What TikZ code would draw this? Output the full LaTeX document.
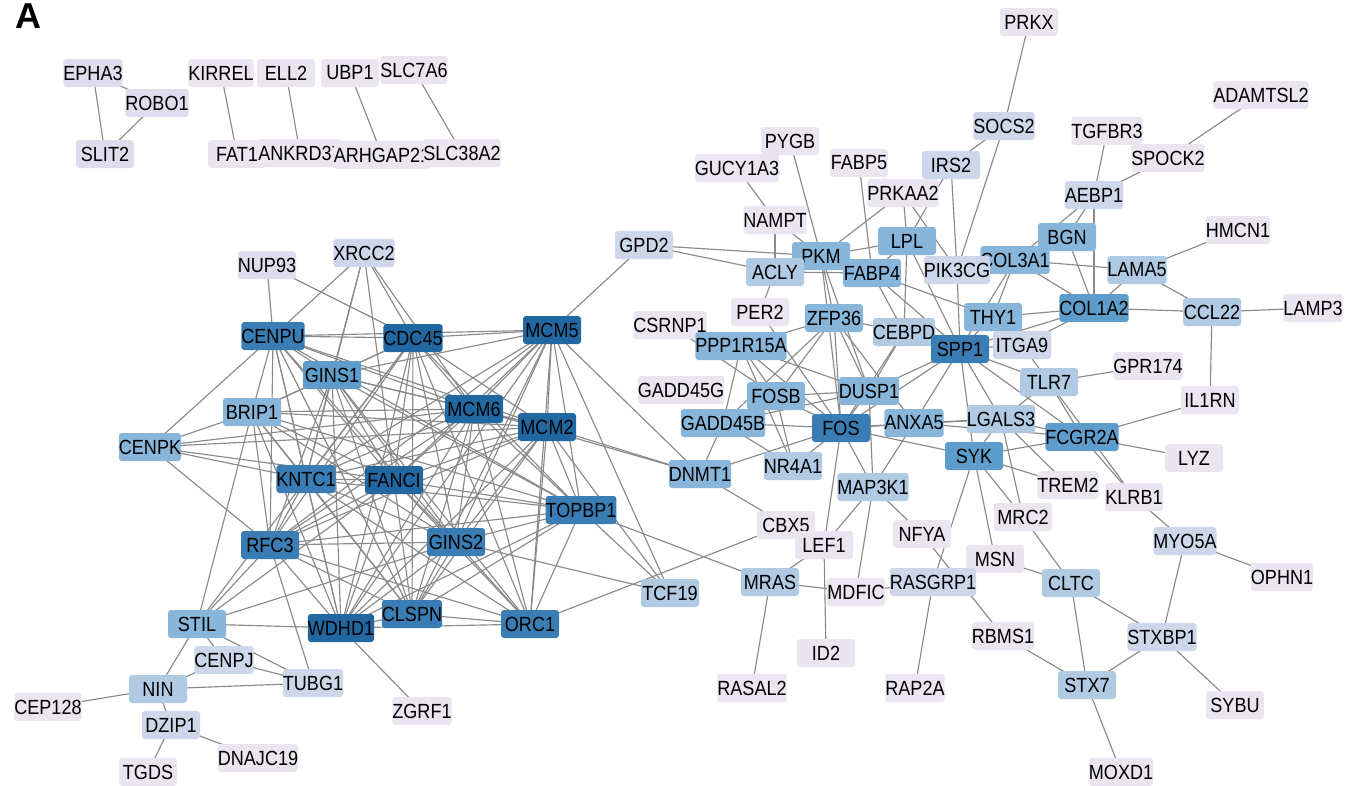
\documentclass[tikz,border=0pt]{standalone}
\usepackage{fontspec}
\newfontfamily\genefont{Liberation Sans}[FakeStretch=0.88]
\newfontfamily\titlefont{Liberation Sans}
\usetikzlibrary{backgrounds}
\definecolor{colA}{HTML}{EAE5F1}
\definecolor{colB}{HTML}{DEDDEE}
\definecolor{colC}{HTML}{CCD7EA}
\definecolor{colD}{HTML}{B0CAE3}
\definecolor{colE}{HTML}{88B6DA}
\definecolor{colF}{HTML}{5E9CCB}
\definecolor{colG}{HTML}{3A7DB4}
\definecolor{colH}{HTML}{2168A3}
\definecolor{edgecol}{HTML}{8A8A8A}
\tikzset{
  gn/.style={rounded corners=3pt, minimum width=58pt, minimum height=28pt, inner sep=0pt,
    font=\genefont\fontsize{20.5}{22}\selectfont, text=black},
  ca/.style={gn, fill=colA},
  cb/.style={gn, fill=colB},
  cc/.style={gn, fill=colC},
  cd/.style={gn, fill=colD},
  ce/.style={gn, fill=colE},
  cf/.style={gn, fill=colF},
  cg/.style={gn, fill=colG},
  ch/.style={gn, fill=colH},
  edge/.style={draw=edgecol, line width=1.15pt},
}
\begin{document}
\begin{tikzpicture}[x=1pt,y=-1pt]
\useasboundingbox (0,0) rectangle (1346,785);
\node[anchor=base west, font=\titlefont\bfseries\fontsize{36}{40}\selectfont, inner sep=0pt] (lblA) at (15,28) {A};
% top-left small groups
\node[cb] (EPHA3) at (93,73) {EPHA3};
\node[cb] (ROBO1) at (157,103) {ROBO1};
\node[cb] (SLIT2) at (105,154) {SLIT2};
\node[ca] (KIRREL) at (221,73) {KIRREL};
\node[ca] (FAT1) at (237,154) {FAT1};
\node[ca] (ELL2) at (286,73) {ELL2};
\node[ca] (ANKRD37) at (300,153) {ANKRD37};
\node[ca] (UBP1) at (350,73) {UBP1};
\node[ca] (ARHGAP21) at (382,155) {ARHGAP21};
\node[ca] (SLC7A6) at (414,70) {SLC7A6};
\node[ca] (SLC38A2) at (462,153) {SLC38A2};
% left cluster
\node[cb] (NUP93) at (267,265) {NUP93};
\node[cc] (XRCC2) at (364,253) {XRCC2};
\node[cg] (CENPU) at (273,336) {CENPU};
\node[ch] (CDC45) at (413,338) {CDC45};
\node[ch] (MCM5) at (552,330) {MCM5};
\node[cf] (GINS1) at (332,375) {GINS1};
\node[ce] (BRIP1) at (252,412) {BRIP1};
\node[ce] (CENPK) at (150,447) {CENPK};
\node[ch] (MCM6) at (474,409) {MCM6};
\node[ch] (MCM2) at (547,427) {MCM2};
\node[cg] (KNTC1) at (306,479) {KNTC1};
\node[ch] (FANCI) at (394,480) {FANCI};
\node[cg] (TOPBP1) at (581,510) {TOPBP1};
\node[cg] (RFC3) at (270,545) {RFC3};
\node[cg] (GINS2) at (456,542) {GINS2};
\node[ce] (STIL) at (197,624) {STIL};
\node[ch] (WDHD1) at (341,628) {WDHD1};
\node[cg] (CLSPN) at (412,614) {CLSPN};
\node[cg] (ORC1) at (530,624) {ORC1};
\node[cd] (TCF19) at (670,593) {TCF19};
\node[cc] (CENPJ) at (224,660) {CENPJ};
\node[cc] (TUBG1) at (313,683) {TUBG1};
\node[cd] (NIN) at (158,689) {NIN};
\node[ca] (CEP128) at (48,707) {CEP128};
\node[cc] (DZIP1) at (171,725) {DZIP1};
\node[ca] (DNAJC19) at (258,758) {DNAJC19};
\node[ca] (TGDS) at (148,772) {TGDS};
\node[ca] (ZGRF1) at (422,711) {ZGRF1};
% right cluster
\node[ca] (PRKX) at (1029,22) {PRKX};
\node[ca] (ADAMTSL2) at (1261,95) {ADAMTSL2};
\node[cc] (SOCS2) at (1004,126) {SOCS2};
\node[ca] (TGFBR3) at (1107,131) {TGFBR3};
\node[ca] (PYGB) at (790,141) {PYGB};
\node[ca] (FABP5) at (859,163) {FABP5};
\node[cc] (IRS2) at (951,165) {IRS2};
\node[ca] (SPOCK2) at (1168,158) {SPOCK2};
\node[ca] (GUCY1A3) at (737,168) {GUCY1A3};
\node[ca] (PRKAA2) at (903,193) {PRKAA2};
\node[cc] (AEBP1) at (1094,195) {AEBP1};
\node[ca] (NAMPT) at (775,220) {NAMPT};
\node[ca] (HMCN1) at (1238,230) {HMCN1};
\node[ce] (LPL) at (907,241) {LPL};
\node[ce] (BGN) at (1067,237) {BGN};
\node[cc] (GPD2) at (644,245) {GPD2};
\node[ce] (PKM) at (821,256) {PKM};
\node[ce] (COL3A1) at (1015,260) {COL3A1};
\node[cd] (LAMA5) at (1137,270) {LAMA5};
\node[cd] (ACLY) at (775,272) {ACLY};
\node[ce] (FABP4) at (872,273) {FABP4};
\node[cc] (PIK3CG) at (957,270) {PIK3CG};
\node[cd] (CCL22) at (1212,312) {CCL22};
\node[ca] (LAMP3) at (1313,308) {LAMP3};
\node[ca] (PER2) at (760,312) {PER2};
\node[ce] (ZFP36) at (834,318) {ZFP36};
\node[ce] (THY1) at (993,317) {THY1};
\node[cf] (COL1A2) at (1094,308) {COL1A2};
\node[ca] (CSRNP1) at (670,325) {CSRNP1};
\node[cd] (CEBPD) at (904,332) {CEBPD};
\node[ce] (PPP1R15A) at (741,346) {PPP1R15A};
\node[cg] (SPP1) at (960,349) {SPP1};
\node[cc] (ITGA9) at (1022,345) {ITGA9};
\node[ca] (GPR174) at (1148,366) {GPR174};
\node[cd] (TLR7) at (1049,382) {TLR7};
\node[ca] (GADD45G) at (681,390) {GADD45G};
\node[ce] (FOSB) at (776,396) {FOSB};
\node[ce] (DUSP1) at (869,391) {DUSP1};
\node[ca] (IL1RN) at (1210,400) {IL1RN};
\node[ce] (GADD45B) at (723,423) {GADD45B};
\node[cg] (FOS) at (841,428) {FOS};
\node[ce] (ANXA5) at (914,423) {ANXA5};
\node[cd] (LGALS3) at (1001,419) {LGALS3};
\node[cf] (FCGR2A) at (1082,437) {FCGR2A};
\node[cf] (SYK) at (974,456) {SYK};
\node[ca] (LYZ) at (1194,458) {LYZ};
\node[ce] (DNMT1) at (700,474) {DNMT1};
\node[cd] (NR4A1) at (793,466) {NR4A1};
\node[cd] (MAP3K1) at (873,487) {MAP3K1};
\node[ca] (TREM2) at (1068,485) {TREM2};
\node[ca] (KLRB1) at (1134,497) {KLRB1};
\node[ca] (MRC2) at (1023,517) {MRC2};
\node[ca] (CBX5) at (786,525) {CBX5};
\node[ca] (NFYA) at (922,534) {NFYA};
\node[ca] (LEF1) at (824,545) {LEF1};
\node[cc] (MYO5A) at (1185,541) {MYO5A};
\node[ca] (MSN) at (995,559) {MSN};
\node[ca] (OPHN1) at (1282,577) {OPHN1};
\node[cd] (MRAS) at (770,582) {MRAS};
\node[ca] (MDFIC) at (856,592) {MDFIC};
\node[cc] (RASGRP1) at (933,582) {RASGRP1};
\node[cd] (CLTC) at (1071,583) {CLTC};
\node[cc] (STXBP1) at (1162,637) {STXBP1};
\node[ca] (RBMS1) at (1003,636) {RBMS1};
\node[ca] (ID2) at (826,653) {ID2};
\node[cd] (STX7) at (1087,685) {STX7};
\node[ca] (RASAL2) at (752,688) {RASAL2};
\node[ca] (RAP2A) at (915,688) {RAP2A};
\node[ca] (SYBU) at (1235,705) {SYBU};
\node[ca] (MOXD1) at (1121,772) {MOXD1};
\begin{pgfonlayer}{background}
\foreach \s/\ts in {
  EPHA3/{ROBO1,SLIT2}, ROBO1/{SLIT2}, KIRREL/{FAT1}, ELL2/{ANKRD37}, UBP1/{ARHGAP21}, SLC7A6/{SLC38A2},
  CENPU/{CDC45,MCM5,GINS1,BRIP1,MCM6,MCM2,KNTC1,FANCI,TOPBP1,RFC3,GINS2,WDHD1,CLSPN,CENPK,NUP93,XRCC2},
  CDC45/{MCM5,GINS1,BRIP1,MCM6,MCM2,KNTC1,FANCI,TOPBP1,RFC3,GINS2,WDHD1,CLSPN,ORC1,NUP93,XRCC2,STIL},
  MCM5/{GINS1,MCM6,MCM2,KNTC1,FANCI,TOPBP1,RFC3,GINS2,WDHD1,CLSPN,ORC1,GPD2,DNMT1,TCF19},
  GINS1/{BRIP1,MCM6,MCM2,KNTC1,FANCI,TOPBP1,RFC3,GINS2,WDHD1,CLSPN,ORC1,XRCC2},
  BRIP1/{MCM6,MCM2,KNTC1,FANCI,TOPBP1,RFC3,GINS2,WDHD1,CLSPN,CENPK,STIL},
  MCM6/{MCM2,KNTC1,FANCI,TOPBP1,RFC3,GINS2,WDHD1,CLSPN,ORC1,CENPK,XRCC2,DNMT1},
  MCM2/{KNTC1,FANCI,TOPBP1,RFC3,GINS2,WDHD1,CLSPN,ORC1,CENPK,DNMT1,TCF19},
  KNTC1/{FANCI,TOPBP1,RFC3,GINS2,WDHD1,CLSPN,ORC1,CENPK,XRCC2},
  FANCI/{TOPBP1,RFC3,GINS2,WDHD1,CLSPN,ORC1,CENPK,XRCC2,STIL},
  TOPBP1/{RFC3,GINS2,WDHD1,CLSPN,ORC1,TCF19,MRAS},
  RFC3/{GINS2,WDHD1,CLSPN,ORC1,STIL,TUBG1,CENPK},
  GINS2/{WDHD1,CLSPN,ORC1,STIL,TCF19},
  WDHD1/{CLSPN,ORC1,STIL,ZGRF1},
  CLSPN/{ORC1}, ORC1/{CBX5},
  STIL/{CENPJ,TUBG1,NIN}, CENPJ/{NIN,TUBG1}, NIN/{TUBG1,CEP128,DZIP1}, DZIP1/{TGDS,DNAJC19},
  GPD2/{PKM,ACLY}, GUCY1A3/{NAMPT}, NAMPT/{PKM,ACLY}, PYGB/{PKM},
  ACLY/{PKM,FABP4,PER2}, PKM/{LPL,FABP4,PRKAA2,ZFP36,FOS,DUSP1},
  FABP5/{FABP4}, PRKAA2/{LPL,PIK3CG}, IRS2/{LPL,PIK3CG,SOCS2}, SOCS2/{PRKX,PIK3CG},
  LPL/{FABP4,CEBPD,SPP1}, FABP4/{CEBPD,SPP1,THY1}, PIK3CG/{SPP1}, PER2/{FOS},
  ZFP36/{PPP1R15A,FOSB,FOS,DUSP1,CEBPD,GADD45B,ANXA5},
  CEBPD/{FOS,DUSP1,SPP1}, PPP1R15A/{FOSB,FOS,DUSP1,GADD45B,NR4A1},
  CSRNP1/{FOSB}, FOSB/{FOS,DUSP1,GADD45B,NR4A1},
  DUSP1/{FOS,SPP1,MAP3K1,GADD45B}, GADD45B/{FOS,DNMT1,NR4A1},
  DNMT1/{FOS,CBX5}, NR4A1/{FOS},
  FOS/{ANXA5,SPP1,SYK,LGALS3,MAP3K1,LEF1},
  ANXA5/{SPP1,LGALS3,FCGR2A,MAP3K1},
  SPP1/{THY1,ITGA9,COL3A1,COL1A2,TLR7,LGALS3,SYK,FCGR2A},
  THY1/{COL1A2,COL3A1}, COL3A1/{BGN,LAMA5,COL1A2}, BGN/{AEBP1,COL1A2},
  AEBP1/{TGFBR3,SPOCK2,COL3A1,COL1A2}, SPOCK2/{ADAMTSL2},
  LAMA5/{COL1A2,HMCN1,CCL22}, COL1A2/{CCL22,ITGA9}, CCL22/{LAMP3,IL1RN},
  ITGA9/{TLR7}, TLR7/{GPR174,FCGR2A,LGALS3,KLRB1},
  LGALS3/{FCGR2A,SYK,TREM2,MRC2}, FCGR2A/{SYK,IL1RN,LYZ,KLRB1},
  SYK/{TREM2,MRC2,MSN,RASGRP1}, KLRB1/{MYO5A}, MYO5A/{OPHN1,STXBP1},
  STXBP1/{CLTC,STX7,SYBU}, CLTC/{MSN,MRC2,STX7}, STX7/{RBMS1,MOXD1}, RBMS1/{NFYA},
  MAP3K1/{NFYA,LEF1,MDFIC}, LEF1/{MRAS,ID2}, MRAS/{MDFIC,RASAL2},
  MDFIC/{RASGRP1}, RASGRP1/{RAP2A}}
  { \foreach \t in \ts { \draw[edge] (\s.center) -- (\t.center); } }
\end{pgfonlayer}
\end{tikzpicture}
\end{document}
